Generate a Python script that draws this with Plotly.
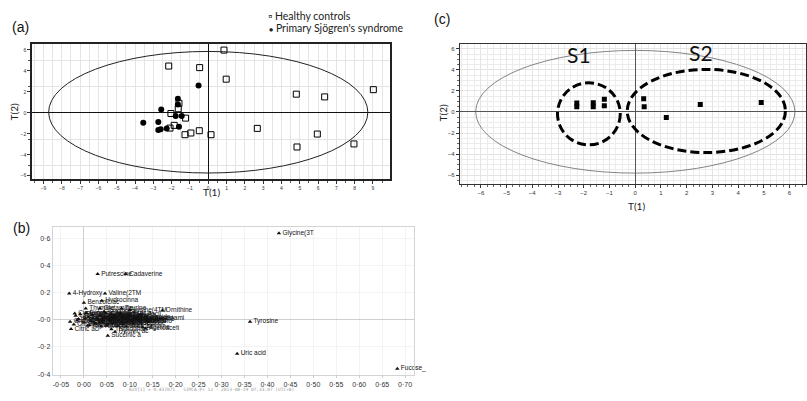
import plotly.graph_objects as go

# ---------------- (a) PCA scores: healthy controls vs primary Sjögren's ----------------
hc_t1 = [0.86, -2.16, -0.47, 0.98, -1.60, -1.64, -2.04, -1.24, -1.86, -2.09, -0.95,
         -1.27, -0.49, 0.15, 2.68, 4.81, 6.36, 9.02, 5.96, 4.85, 7.96]
hc_t2 = [5.97, 4.45, 4.30, 3.20, 0.90, 0.38, -0.07, -0.51, -1.20, -1.46, -1.93,
         -2.09, -1.71, -2.09, -1.49, 1.77, 1.51, 2.20, -2.03, -3.26, -2.97]
pss_t1 = [-0.53, -1.66, -1.66, -2.57, -1.78, -1.45, -3.55, -2.73, -2.73, -2.60, -2.27, -1.60]
pss_t2 = [2.59, 1.33, 0.79, 0.31, -0.32, -0.32, -0.95, -0.89, -1.65, -1.58, -1.49, -1.33]
a_ellipse_t1 = [-8.72, 8.72]
a_ellipse_t2 = [-5.74, 5.84]
a_xticks = list(range(-9, 10))
a_yticks = [-6, -4, -2, 0, 2, 4, 6]

# ---------------- (c) PCA scores of pSS patients, subgroups S1 / S2 ----------------
c_t1 = [-2.27, -2.27, -1.63, -1.63, -1.20, -1.20, 0.33, 0.35, 1.21, 2.53, 4.90]
c_t2 = [0.85, 0.50, 0.88, 0.50, 1.20, 0.60, 1.25, 0.50, -0.53, 0.70, 0.89]
c_ellipse_t1 = [-6.20, 6.21]
c_ellipse_t2 = [-5.80, 5.84]
s1_t1 = [-3.02, -0.58]
s1_t2 = [-3.12, 2.77]
s2_t1 = [-0.31, 5.84]
s2_t2 = [-3.85, 4.04]
c_xticks = list(range(-6, 7))
c_yticks = [-6, -4, -2, 0, 2, 4, 6]

# ---------------- (b) loading plot ----------------
b_labels = ["Glycine(3T", "Putrescine", "Cadaverine", "4-Hydroxy", "Valine(2TM",
            "Hydrocinna", "Benzoic ac", "Thymine", "Ornithine", "Tyrosine",
            "Uric acid", "Fucose_", "Citric aci", "Acetoaceti", "Succinic a",
            "Glutamine", "Lysine(4TM", "Lactic aci", "Glycolic a", "Alanine(2T",
            "Oxalic aci", "Serine(3TM", "Proline(2T", "Threonine(", "Phosphate",
            "Urea(2TMS)", "Leucine(2T", "Isoleucine", "Methionine", "Phenylalan",
            "Pyroglutam", "Aspartic a", "Glutamic a", "Palmitic a", "Stearic ac",
            "Myristic a", "Glucose(5T", "Galactose", "Mannose(5T", "Hexadecano",
            "Pyruvic ac", "Malic acid", "Fumaric ac", "Tryptophan", "Histidine",
            "Arginine", "Cysteine", "Glycerol", "Creatinine", "Taurine",
            "Citrulline", "Glycine(2T", "Valine(1TM", "Homoserine", "Inositol",
            "Ribose", "Xylose", "Arabinose", "Fructose", "Sorbitol",
            "Maltose", "Sucrose", "Lactose", "Trehalose", "Hypoxanthi",
            "Uracil", "Adenine", "Nicotinami", "Butanoic a", "Propanoic",
            "Hippuric a", "Indole-3-a", "Kynurenine", "Spermidine", "Cholestero"]
b_p1 = [0.425, 0.030, 0.091, -0.032, 0.046,
        0.039, 0.000, 0.004, 0.171, 0.362,
        0.334, 0.683, -0.028, 0.134, 0.052,
        0.035, 0.100, -0.018, -0.030, -0.012,
        0.000, 0.010, 0.015, 0.020, 0.025,
        0.030, 0.035, 0.040, 0.045, 0.050,
        0.055, 0.060, 0.065, 0.070, 0.075,
        0.080, 0.085, 0.090, 0.095, 0.105,
        0.068, 0.110, 0.005, 0.060, 0.120,
        0.128, -0.020, 0.012, 0.044, 0.082,
        -0.022, -0.008, 0.008, 0.018, 0.028,
        0.038, 0.048, 0.058, 0.066, 0.074,
        0.084, 0.092, 0.100, 0.108, 0.116,
        0.124, 0.138, 0.145, -0.015, 0.003,
        0.022, 0.042, 0.062, 0.082, 0.098]
b_p2 = [0.636, 0.336, 0.336, 0.192, 0.192,
        0.139, 0.124, 0.083, 0.068, -0.015,
        -0.250, -0.360, -0.069, -0.064, -0.117,
        0.083, 0.072, 0.030, -0.015, 0.005,
        -0.020, 0.020, -0.010, 0.010, -0.030,
        0.000, 0.030, -0.015, 0.015, -0.040,
        0.005, 0.040, -0.020, 0.020, -0.005,
        0.045, -0.030, 0.010, -0.015, -0.010,
        -0.088, 0.020, 0.050, -0.070, -0.005,
        -0.055, 0.045, -0.040, 0.060, 0.083,
        -0.035, 0.040, -0.045, 0.035, 0.015,
        -0.050, 0.050, -0.010, 0.030, -0.045,
        0.025, -0.050, 0.035, -0.030, 0.010,
        0.040, 0.000, 0.010, -0.005, 0.010,
        -0.020, 0.000, 0.010, -0.015, 0.000]
b_xticks = [-0.05, 0.00, 0.05, 0.10, 0.15, 0.20, 0.25, 0.30, 0.35, 0.40, 0.45,
            0.50, 0.55, 0.60, 0.65, 0.70]
b_xticktext = ["-0·05", "0·00", "0·05", "0·10", "0·15", "0·20", "0·25", "0·30",
               "0·35", "0·40", "0·45", "0·50", "0·55", "0·60", "0·65", "0·70"]
b_yticks = [-0.4, -0.2, 0.0, 0.2, 0.4, 0.6]
b_yticktext = ["-0·4", "-0·2", "-0·0", "0·2", "0·4", "0·6"]

W, H = 807, 401


def dom_x(left, right):
    return [left / W, right / W]


def dom_y(top, bottom):
    return [1 - bottom / H, 1 - top / H]


fig = go.Figure()

fig.add_trace(go.Scatter(x=hc_t1, y=hc_t2, mode="markers", name="Healthy controls",
                         marker=dict(symbol="square-open", size=6, color="black",
                                     line=dict(width=1, color="black")),
                         xaxis="x", yaxis="y", showlegend=False))
fig.add_trace(go.Scatter(x=pss_t1, y=pss_t2, mode="markers", name="Primary Sjögren's syndrome",
                         marker=dict(symbol="circle", size=6, color="black"),
                         xaxis="x", yaxis="y", showlegend=False))
fig.add_trace(go.Scatter(x=c_t1, y=c_t2, mode="markers", name="pSS",
                         marker=dict(symbol="square", size=5, color="black"),
                         xaxis="x2", yaxis="y2", showlegend=False))
fig.add_trace(go.Scatter(x=b_p1, y=b_p2, mode="markers+text", text=b_labels,
                         textposition="middle right",
                         textfont=dict(family="Liberation Sans", size=6.5, color="#111"),
                         marker=dict(symbol="triangle-up", size=4, color="#111"),
                         xaxis="x3", yaxis="y3", showlegend=False, cliponaxis=False))

grid = "#e4e4e4"
tickfont_small = dict(family="Liberation Sans", size=5, color="#333")

fig.update_layout(
    width=W, height=H, margin=dict(l=0, r=0, t=0, b=0),
    paper_bgcolor="white", plot_bgcolor="white", showlegend=False,
    xaxis=dict(domain=dom_x(32, 390), anchor="y", range=[-9.63, 9.93],
               tickvals=a_xticks, tickfont=tickfont_small, ticks="outside", ticklen=3,
               tickcolor="#333", showgrid=True, gridcolor=grid,
               minor=dict(dtick=0.5, tick0=0, showgrid=True, gridcolor=grid,
                          ticks="outside", ticklen=2, tickcolor="#555"),
               showline=True, linecolor="#222", linewidth=1.5, mirror=True,
               zeroline=True, zerolinecolor="#111", zerolinewidth=1),
    yaxis=dict(domain=dom_y(44, 180), anchor="x", range=[-6.32, 6.57],
               tickvals=a_yticks, tickfont=tickfont_small, ticks="outside", ticklen=3,
               tickcolor="#333", showgrid=False,
               minor=dict(dtick=2.5, tick0=0, showgrid=True, gridcolor=grid,
                          ticks="outside", ticklen=2, tickcolor="#555"),
               showline=True, linecolor="#222", linewidth=1.5, mirror=True,
               zeroline=True, zerolinecolor="#111", zerolinewidth=1),
    xaxis2=dict(domain=dom_x(460, 806), anchor="y2", range=[-6.81, 6.64],
                tickvals=c_xticks, tickfont=dict(family="Liberation Sans", size=6, color="#333"),
                ticks="outside", ticklen=3, tickcolor="#333", showgrid=True, gridcolor=grid,
                minor=dict(dtick=0.25, tick0=0, showgrid=True, gridcolor="#ececec",
                           ticks="outside", ticklen=2, tickcolor="#666"),
                showline=True, linecolor="#333", linewidth=1.2, mirror=True,
                zeroline=True, zerolinecolor="#555", zerolinewidth=1),
    yaxis2=dict(domain=dom_y(44, 185), anchor="x2", range=[-6.84, 6.47],
                tickvals=c_yticks, tickfont=dict(family="Liberation Sans", size=6, color="#333"),
                ticks="outside", ticklen=3, tickcolor="#333", showgrid=True, gridcolor=grid,
                minor=dict(dtick=0.5, tick0=0, showgrid=True, gridcolor="#ececec",
                           ticks="outside", ticklen=2, tickcolor="#666"),
                showline=True, linecolor="#333", linewidth=1.2, mirror=True,
                zeroline=True, zerolinecolor="#555", zerolinewidth=1),
    xaxis3=dict(domain=dom_x(52.7, 414.3), anchor="y3", range=[-0.068, 0.72],
                tickvals=b_xticks, ticktext=b_xticktext,
                tickfont=dict(family="Liberation Sans", size=7, color="#333"),
                ticks="outside", ticklen=2, tickcolor="#ccc", showgrid=True, gridcolor="#f3f3f3",
                showline=True, linecolor="#d4d4d4", linewidth=1, mirror=True,
                zeroline=True, zerolinecolor="#cfcfcf", zerolinewidth=1),
    yaxis3=dict(domain=dom_y(228.3, 377), anchor="x3", range=[-0.407, 0.68],
                tickvals=b_yticks, ticktext=b_yticktext,
                tickfont=dict(family="Liberation Sans", size=7, color="#333"),
                ticks="", showgrid=True, gridcolor="#f3f3f3",
                showline=True, linecolor="#d4d4d4", linewidth=1, mirror=True,
                zeroline=True, zerolinecolor="#cfcfcf", zerolinewidth=1),
)

shapes = [
    dict(type="circle", xref="x", yref="y", x0=a_ellipse_t1[0], x1=a_ellipse_t1[1],
         y0=a_ellipse_t2[0], y1=a_ellipse_t2[1], line=dict(color="#222", width=1)),
    dict(type="circle", xref="x2", yref="y2", x0=c_ellipse_t1[0], x1=c_ellipse_t1[1],
         y0=c_ellipse_t2[0], y1=c_ellipse_t2[1], line=dict(color="#666", width=0.8)),
    dict(type="circle", xref="x2", yref="y2", x0=s1_t1[0], x1=s1_t1[1],
         y0=s1_t2[0], y1=s1_t2[1], line=dict(color="black", width=3, dash="9px,4px")),
    dict(type="circle", xref="x2", yref="y2", x0=s2_t1[0], x1=s2_t1[1],
         y0=s2_t2[0], y1=s2_t2[1], line=dict(color="black", width=3, dash="9px,4px")),
]
fig.update_layout(shapes=shapes)

lab = dict(family="Liberation Sans", size=14, color="#111")
axt = dict(family="Lato", size=10, color="#222")
ann = [
    dict(text="(a)", x=20 / W, y=1 - 27 / H, font=lab),
    dict(text="(b)", x=21 / W, y=1 - 229 / H, font=lab),
    dict(text="(c)", x=442 / W, y=1 - 19 / H, font=lab),
    dict(text="T(1)", x=211 / W, y=1 - 193 / H, font=axt),
    dict(text="T(2)", x=14 / W, y=1 - 113 / H, font=axt, textangle=-90),
    dict(text="T(2)", x=443 / W, y=1 - 113 / H, font=axt, textangle=-90),
    dict(text="T(1)", x=636 / W, y=1 - 207 / H, font=axt),
    dict(text="▫ Healthy controls", x=266 / W, y=1 - 16 / H, xanchor="left",
         font=dict(family="Lato", size=10.5, color="#222")),
    dict(text="<span style='font-size:7px'>●</span> Primary Sjögren's syndrome",
         x=267 / W, y=1 - 28 / H, xanchor="left",
         font=dict(family="Lato", size=10.5, color="#222")),
    dict(text="R2X[1] = 0.437071   SIMCA-P+ 12 - 2013-08-19 07:33:07 (UTC+8)",
         x=212 / W, y=1 - 391 / H, font=dict(family="DejaVu Sans Mono", size=4.5, color="#999")),
]
for a in ann:
    a.setdefault("xref", "paper")
    a.setdefault("yref", "paper")
    a.setdefault("xanchor", "center")
    a.setdefault("yanchor", "middle")
    a.setdefault("showarrow", False)
fig.update_layout(annotations=ann + [
    dict(text="S1", xref="x2", yref="y2", x=-2.17, y=5.45, showarrow=False,
         xanchor="center", yanchor="middle",
         font=dict(family="Lato", size=21, color="#111")),
    dict(text="S2", xref="x2", yref="y2", x=2.54, y=5.6, showarrow=False,
         xanchor="center", yanchor="middle",
         font=dict(family="Lato", size=21, color="#111")),
])

fig.write_html("out.html", config={"displayModeBar": False},
               post_script="document.body.style.margin='0';document.body.style.overflow='hidden';")
